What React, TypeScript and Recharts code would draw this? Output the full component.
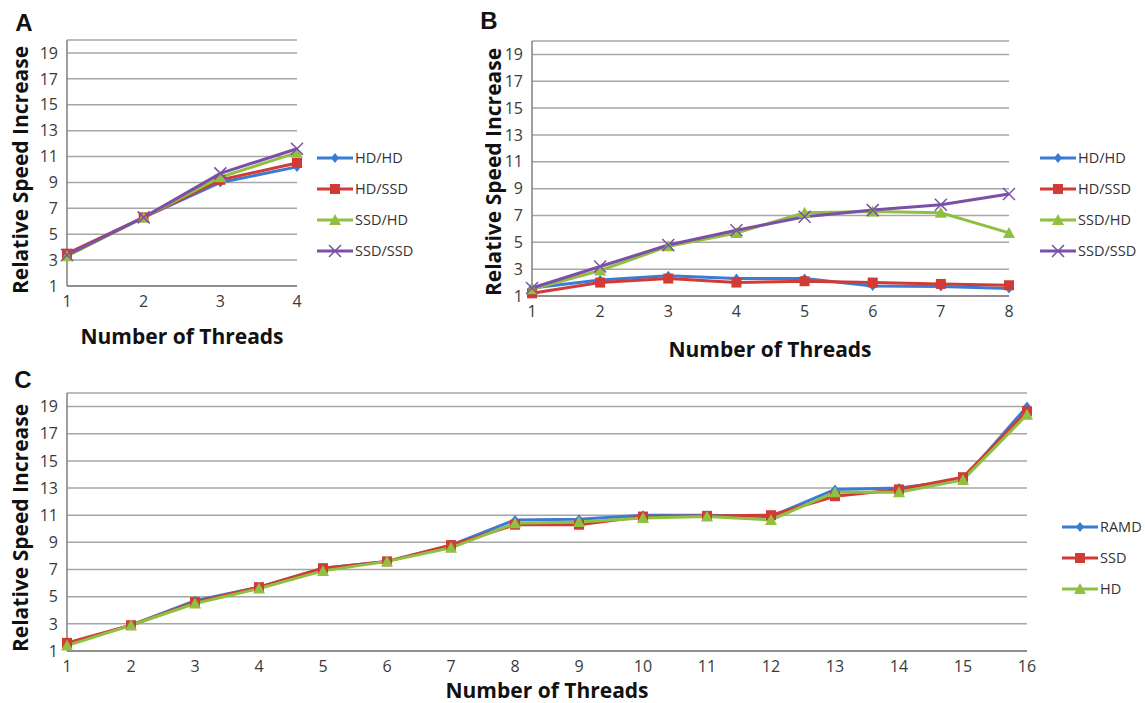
import React from 'react'
import { LineChart, Line, XAxis, YAxis, CartesianGrid, Legend } from 'recharts'

// panel A: 1-4 threads
const threadsA = [1, 2, 3, 4]
const hdHdA = [3.4, 6.3, 9.0, 10.2]
const hdSsdA = [3.5, 6.3, 9.2, 10.5]
const ssdHdA = [3.3, 6.3, 9.4, 11.3]
const ssdSsdA = [3.4, 6.3, 9.7, 11.6]

// panel B: 1-8 threads
const threadsB = [1, 2, 3, 4, 5, 6, 7, 8]
const hdHdB = [1.6, 2.2, 2.5, 2.3, 2.3, 1.75, 1.7, 1.55]
const hdSsdB = [1.2, 2.0, 2.3, 2.0, 2.1, 2.0, 1.9, 1.8]
const ssdHdB = [1.5, 2.9, 4.7, 5.7, 7.2, 7.3, 7.2, 5.7]
const ssdSsdB = [1.6, 3.2, 4.8, 5.9, 6.9, 7.4, 7.8, 8.6]

// panel C: 1-16 threads
const threadsC = [1, 2, 3, 4, 5, 6, 7, 8, 9, 10, 11, 12, 13, 14, 15, 16]
const ramdC = [1.5, 2.9, 4.7, 5.7, 7.1, 7.6, 8.8, 10.65, 10.7, 11.0, 11.0, 10.9, 12.9, 13.0, 13.6, 19.0]
const ssdC = [1.6, 2.9, 4.6, 5.7, 7.1, 7.6, 8.8, 10.3, 10.3, 10.9, 10.95, 11.0, 12.4, 12.9, 13.8, 18.65]
const hdC = [1.4, 2.9, 4.5, 5.6, 6.9, 7.6, 8.6, 10.4, 10.5, 10.8, 10.9, 10.65, 12.7, 12.7, 13.6, 18.4]

const yTicks = [1, 3, 5, 7, 9, 11, 13, 15, 17, 19]

const BLUE = '#3a7bd5'
const RED = '#d23a35'
const GREEN = '#8fc03f'
const PURPLE = '#7b4fa8'

const FONT = '"Open Sans", sans-serif'
const TICK = { fontSize: 16, fill: '#3a3a3a', fontFamily: FONT }

type Shape = 'diamond' | 'square' | 'triangle' | 'cross'

const shapes: Record<string, Shape> = {
  hdhd: 'diamond',
  hdssd: 'square',
  ssdhd: 'triangle',
  ssdssd: 'cross',
  ramd: 'diamond',
  ssd: 'square',
  hd: 'triangle',
}

// legend order = drawing order
const legendOrder = ['hdhd', 'hdssd', 'ssdhd', 'ssdssd', 'ramd', 'ssd', 'hd']

function Marker({ cx, cy, shape, color }: { cx: number; cy: number; shape: Shape; color: string }) {
  if (cx == null || cy == null) return null
  if (shape === 'diamond') {
    return <polygon points={`${cx},${cy - 5} ${cx + 4},${cy} ${cx},${cy + 5} ${cx - 4},${cy}`} fill={color} />
  }
  if (shape === 'square') {
    return <rect x={cx - 5} y={cy - 5} width={10} height={10} fill={color} />
  }
  if (shape === 'triangle') {
    return <polygon points={`${cx},${cy - 6} ${cx + 6},${cy + 5} ${cx - 6},${cy + 5}`} fill={color} />
  }
  return (
    <g stroke={color} strokeWidth={1.5}>
      <line x1={cx - 6} y1={cy - 6} x2={cx + 6} y2={cy + 6} />
      <line x1={cx - 6} y1={cy + 6} x2={cx + 6} y2={cy - 6} />
    </g>
  )
}

const dotFor = (shape: Shape, color: string) => (p: any) => (
  <Marker key={`d-${p.index}`} cx={p.cx} cy={p.cy} shape={shape} color={color} />
)

function SeriesLegend({ payload, rowHeight }: any) {
  const items = [...(payload || [])].sort(
    (a: any, b: any) => legendOrder.indexOf(a.dataKey) - legendOrder.indexOf(b.dataKey)
  )
  return (
    <div style={{ fontFamily: FONT, fontSize: 14.5, color: '#333' }}>
      {items.map((entry: any) => (
        <div key={entry.value} style={{ display: 'flex', alignItems: 'center', height: rowHeight }}>
          <svg width={36} height={14}>
            <line x1={0} y1={7} x2={36} y2={7} stroke={entry.color} strokeWidth={3} />
            <Marker cx={18} cy={7} shape={shapes[entry.dataKey]} color={entry.color} />
          </svg>
          <span style={{ marginLeft: 2 }}>{entry.value}</span>
        </div>
      ))}
    </div>
  )
}

const titleStyle: React.CSSProperties = {
  position: 'absolute',
  whiteSpace: 'nowrap',
  fontFamily: FONT,
  fontWeight: 700,
  fontSize: 21,
  lineHeight: '22px',
  color: '#111',
}

function YTitle({ x, y }: { x: number; y: number }) {
  return (
    <div style={{ ...titleStyle, left: x, top: y, transform: 'translate(-50%, -50%) rotate(-90deg)' }}>
      Relative Speed Increase
    </div>
  )
}

function XTitle({ x, y }: { x: number; y: number }) {
  return (
    <div style={{ ...titleStyle, left: x, top: y, transform: 'translate(-50%, -50%)' }}>
      Number of Threads
    </div>
  )
}

function PanelLetter({ x, y, text }: { x: number; y: number; text: string }) {
  return (
    <div
      style={{
        position: 'absolute',
        left: x,
        top: y,
        transform: 'translate(-50%, -50%)',
        fontFamily: '"Liberation Sans", Arial, sans-serif',
        fontWeight: 700,
        fontSize: 24,
        lineHeight: '26px',
        color: '#111',
      }}
    >
      {text}
    </div>
  )
}

const axisLine = { stroke: '#7f7f7f', strokeWidth: 1.5 }

export default function App() {
  const dataA = threadsA.map((t, i) => ({
    threads: t,
    hdhd: hdHdA[i],
    hdssd: hdSsdA[i],
    ssdhd: ssdHdA[i],
    ssdssd: ssdSsdA[i],
  }))
  const dataB = threadsB.map((t, i) => ({
    threads: t,
    hdhd: hdHdB[i],
    hdssd: hdSsdB[i],
    ssdhd: ssdHdB[i],
    ssdssd: ssdSsdB[i],
  }))
  const dataC = threadsC.map((t, i) => ({
    threads: t,
    ramd: ramdC[i],
    ssd: ssdC[i],
    hd: hdC[i],
  }))

  const fourSeries = [
    { key: 'hdhd', name: 'HD/HD', color: BLUE },
    { key: 'hdssd', name: 'HD/SSD', color: RED },
    { key: 'ssdhd', name: 'SSD/HD', color: GREEN },
    { key: 'ssdssd', name: 'SSD/SSD', color: PURPLE },
  ]
  const threeSeries = [
    { key: 'ramd', name: 'RAMD', color: BLUE },
    { key: 'ssd', name: 'SSD', color: RED },
    { key: 'hd', name: 'HD', color: GREEN },
  ]

  const lines = (list: typeof fourSeries) =>
    list.map((s) => (
      <Line
        key={s.key}
        type="linear"
        dataKey={s.key}
        name={s.name}
        stroke={s.color}
        strokeWidth={3}
        dot={dotFor(shapes[s.key], s.color)}
        activeDot={false}
        isAnimationActive={false}
      />
    ))

  const yAxis = (
    <YAxis
      type="number"
      domain={[1, 20]}
      ticks={yTicks}
      interval={0}
      width={50}
      tickLine={false}
      axisLine={axisLine}
      tick={TICK}
      tickMargin={3}
    />
  )

  const xAxis = (ticks: number[]) => (
    <XAxis
      dataKey="threads"
      type="number"
      domain={[1, ticks[ticks.length - 1]]}
      ticks={ticks}
      interval={0}
      height={30}
      tickLine={false}
      axisLine={axisLine}
      tick={TICK}
      tickMargin={4}
    />
  )

  return (
    <div style={{ position: 'absolute', left: 0, top: 0, width: 1145, height: 703, background: '#fff' }}>
      <PanelLetter x={24} y={23} text="A" />
      <PanelLetter x={489} y={21} text="B" />
      <PanelLetter x={23} y={380} text="C" />

      <div style={{ position: 'absolute', left: 0, top: 0 }}>
        <LineChart width={430} height={340} data={dataA} margin={{ top: 40, right: 133, bottom: 24, left: 17 }}>
          <CartesianGrid vertical={false} stroke="#a6a6a6" strokeWidth={1.5} />
          {xAxis(threadsA)}
          {yAxis}
          <Legend
            layout="horizontal"
            verticalAlign="middle"
            align="center"
            wrapperStyle={{ left: 317, top: 142, width: 110 }}
            content={(p: any) => <SeriesLegend payload={p.payload} rowHeight={31} />}
          />
          {lines(fourSeries)}
        </LineChart>
      </div>

      <div style={{ position: 'absolute', left: 460, top: 0 }}>
        <LineChart width={685} height={370} data={dataB} margin={{ top: 41, right: 136, bottom: 44, left: 22 }}>
          <CartesianGrid vertical={false} stroke="#a6a6a6" strokeWidth={1.5} />
          {xAxis(threadsB)}
          {yAxis}
          <Legend
            layout="horizontal"
            verticalAlign="middle"
            align="center"
            wrapperStyle={{ left: 580, top: 142, width: 105 }}
            content={(p: any) => <SeriesLegend payload={p.payload} rowHeight={31} />}
          />
          {lines(fourSeries)}
        </LineChart>
      </div>

      <div style={{ position: 'absolute', left: 0, top: 370 }}>
        <LineChart width={1145} height={333} data={dataC} margin={{ top: 23, right: 118, bottom: 22, left: 17 }}>
          <CartesianGrid vertical={false} stroke="#a6a6a6" strokeWidth={1.5} />
          {xAxis(threadsC)}
          {yAxis}
          <Legend
            layout="horizontal"
            verticalAlign="middle"
            align="center"
            wrapperStyle={{ left: 1062, top: 141, width: 83 }}
            content={(p: any) => <SeriesLegend payload={p.payload} rowHeight={31} />}
          />
          {lines(threeSeries)}
        </LineChart>
      </div>

      <YTitle x={20} y={170} />
      <YTitle x={493} y={172} />
      <YTitle x={20} y={528} />
      <XTitle x={182} y={336} />
      <XTitle x={770} y={349} />
      <XTitle x={547} y={690} />
    </div>
  )
}
